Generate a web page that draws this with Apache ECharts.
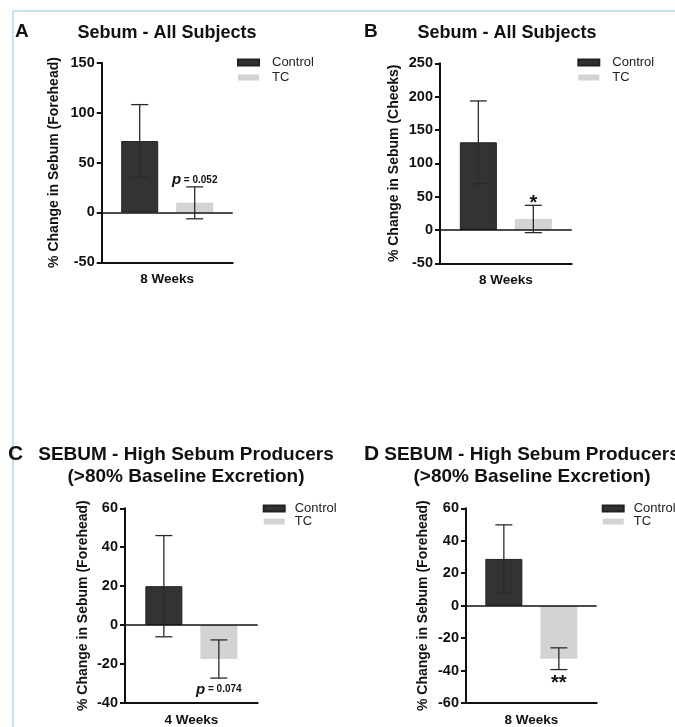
<!DOCTYPE html>
<html><head><meta charset="utf-8">
<script src="https://cdn.jsdelivr.net/npm/echarts@6/dist/echarts.min.js"></script>
<style>html,body{margin:0;padding:0;background:#fff}#c{width:675px;height:727px}</style>
</head><body><div id="c"></div>
<script>
// ---- data ----
const seriesNames = ['Control', 'TC'];

// Panel A: Sebum - All Subjects (Forehead)
const catA = ['8 Weeks'];
const meanA = [71.5, 9.6];
const errA = [36.5, 16];
const ticksA = [-50, 0, 50, 100, 150];
const annotA = ['', 'p|0.052'];

// Panel B: Sebum - All Subjects (Cheeks)
const catB = ['8 Weeks'];
const meanB = [131.5, 16.5];
const errB = [62, 20.5];
const ticksB = [-50, 0, 50, 100, 150, 200, 250];
const annotB = ['', '*'];

// Panel C: High Sebum Producers, 4 weeks (Forehead)
const catC = ['4 Weeks'];
const meanC = [20, -17.4];
const errC = [26, 9.8];
const ticksC = [-40, -20, 0, 20, 40, 60];
const annotC = ['', 'p|0.074'];

// Panel D: High Sebum Producers, 8 weeks (Forehead)
const catD = ['8 Weeks'];
const meanD = [28.8, -32.7];
const errD = [21, 6.7];
const ticksD = [-60, -40, -20, 0, 20, 40, 60];
const annotD = ['', '**'];

// ---- layout ----
const panels = [
  {letter:'A', title:'Sebum - All Subjects', yName:'% Change in Sebum (Forehead)', cats:catA, mean:meanA, err:errA, ticks:ticksA, annot:annotA, annotPos:'above',
   grid:{left:101.7, top:62.7, width:131, height:199.6}, titleX:167, titleY:22, titleSize:18, letterX:15, letterY:22, legendX:237, legendY:56, legendGap:15, legendPad:8, nameGap:41},
  {letter:'B', title:'Sebum - All Subjects', yName:'% Change in Sebum (Cheeks)', cats:catB, mean:meanB, err:errB, ticks:ticksB, annot:annotB, annotPos:'above',
   grid:{left:440, top:63.3, width:131.7, height:200}, titleX:507, titleY:22, titleSize:18, letterX:364, letterY:22, legendX:577.3, legendY:56, legendGap:15, legendPad:8, nameGap:39},
  {letter:'C', title:'SEBUM - High Sebum Producers\n(>80% Baseline Excretion)', yName:'% Change in Sebum (Forehead)', cats:catC, mean:meanC, err:errC, ticks:ticksC, annot:annotC, annotPos:'below',
   grid:{left:125, top:508.3, width:132.7, height:198.4}, titleX:186, titleY:444, titleSize:19, letterX:8, letterY:444, legendX:262.7, legendY:502, legendGap:13, legendPad:5, nameGap:35},
  {letter:'D', title:'SEBUM - High Sebum Producers\n(>80% Baseline Excretion)', yName:'% Change in Sebum (Forehead)', cats:catD, mean:meanD, err:errD, ticks:ticksD, annot:annotD, annotPos:'below',
   grid:{left:466, top:508.3, width:130.7, height:198.4}, titleX:532, titleY:444, titleSize:19, letterX:364, letterY:444, legendX:601.7, legendY:502, legendGap:13, legendPad:5, nameGap:36}
];

const BAR_W = 37, BAR_GAP = 18;
const colors = ['#333333', '#d3d3d3'];
const INK = '#111111';

function makeRender(p) {
  return function (params, api) {
    const g = api.value(3);
    const mean = api.value(1), err = api.value(2);
    const c = api.coord([api.value(0), mean]);
    const off = (BAR_W + BAR_GAP) / 2;
    const x = c[0] + (g === 0 ? -off : off);
    const yTop = api.coord([api.value(0), mean + err])[1];
    const yBot = api.coord([api.value(0), mean - err])[1];
    const cap = 8.5;
    const ls = {stroke:'#2a2a2a', lineWidth:1.3};
    const children = [
      {type:'line', shape:{x1:x, y1:yTop, x2:x, y2:yBot}, style:ls},
      {type:'line', shape:{x1:x-cap, y1:yTop, x2:x+cap, y2:yTop}, style:ls},
      {type:'line', shape:{x1:x-cap, y1:yBot, x2:x+cap, y2:yBot}, style:ls}
    ];
    const a = p.annot[params.dataIndex];
    if (a) {
      const isP = a.indexOf('p|') === 0;
      const txt = isP ? '{p|p}{v| = ' + a.slice(2) + '}' : '{s|' + a + '}';
      const above = p.annotPos === 'above';
      let y;
      if (isP) y = above ? yTop + 1 : yBot + 4;
      else y = above ? yTop + 5 : yBot + 7;
      children.push({type:'text', style:{
        text: txt, x: x, y: y,
        align:'center', verticalAlign: above ? 'bottom' : 'top',
        fill: INK,
        rich:{
          p:{fontFamily:'Liberation Sans, Arial', fontStyle:'italic', fontWeight:'bold', fontSize:15, fill:INK},
          v:{fontFamily:'Liberation Sans, Arial', fontWeight:'bold', fontSize:10, fill:INK},
          s:{fontFamily:'Liberation Sans, Arial', fontWeight:'bold', fontSize:20, fill:INK, lineHeight:14}
        }
      }});
    }
    return {type:'group', children};
  };
}

const option = {
  animation:false,
  backgroundColor:'#ffffff',
  textStyle:{fontFamily:'Liberation Sans, Arial, sans-serif'},
  title:[], grid:[], xAxis:[], yAxis:[], legend:[], series:[],
  graphic:[
    {type:'line', shape:{x1:13, y1:11, x2:675, y2:11}, style:{stroke:'#b9d7ea', lineWidth:1.5}, silent:true},
    {type:'line', shape:{x1:13, y1:11, x2:13, y2:727}, style:{stroke:'#b9d7ea', lineWidth:1.5}, silent:true}
  ]
};

panels.forEach((p, i) => {
  option.title.push({text:p.title, left:p.titleX, top:p.titleY, textAlign:'center', padding:0,
    textStyle:{fontFamily:'Liberation Sans, Arial', fontWeight:'bold', fontSize:p.titleSize, color:INK, lineHeight:22}});
  option.title.push({text:p.letter, left:p.letterX, top:p.letterY, padding:0,
    textStyle:{fontFamily:'Liberation Sans, Arial', fontWeight:'bold', fontSize: i < 2 ? 19 : 21, color:INK}});
  option.grid.push(Object.assign({containLabel:false}, p.grid));
  option.xAxis.push({gridIndex:i, type:'category', data:p.cats,
    axisLine:{onZero:false, lineStyle:{color:INK, width:2}},
    axisTick:{show:false},
    axisLabel:{fontWeight:'bold', fontSize:13.5, color:INK, margin:10}});
  option.yAxis.push({gridIndex:i, type:'value', min:p.ticks[0], max:p.ticks[p.ticks.length-1], interval:p.ticks[1]-p.ticks[0],
    name:p.yName, nameLocation:'middle', nameGap:p.nameGap,
    nameTextStyle:{fontWeight:'bold', fontSize:14, color:INK},
    axisLine:{show:true, lineStyle:{color:INK, width:2}},
    axisTick:{show:true, length:5, lineStyle:{color:INK, width:2}},
    axisLabel:{fontWeight:'bold', fontSize:14.5, color:INK, margin:7},
    splitLine:{show:false}});
  option.legend.push({data:seriesNames, orient:'vertical', left:p.legendX, top:p.legendY, padding:0,
    itemWidth:21, itemHeight:6, itemGap:p.legendGap - 13, icon:'rect', selectedMode:false,
    textStyle:{fontSize:13, color:'#222', lineHeight:13, padding:[0,0,0,p.legendPad]}});
  seriesNames.forEach((name, g) => {
    const s = {name, type:'bar', xAxisIndex:i, yAxisIndex:i, data:[p.mean[g]],
      barWidth:BAR_W, barGap:(BAR_GAP / BAR_W * 100).toFixed(1) + '%',
      itemStyle:{color:colors[g], borderColor: g === 0 ? '#222' : colors[g], borderWidth: g === 0 ? 1 : 0},
      emphasis:{disabled:true}, z:2};
    if (g === 0) {
      s.markLine = {silent:true, symbol:'none', label:{show:false},
        lineStyle:{color:INK, width:1.6, type:'solid'}, data:[{yAxis:0}], z:5};
    }
    option.series.push(s);
  });
  option.series.push({type:'custom', xAxisIndex:i, yAxisIndex:i, z:10, silent:true,
    data:p.mean.map((m, g) => [0, m, p.err[g], g]),
    renderItem:makeRender(p)});
});

const chart = echarts.init(document.getElementById('c'));
chart.setOption(option);
</script>
</body></html>
